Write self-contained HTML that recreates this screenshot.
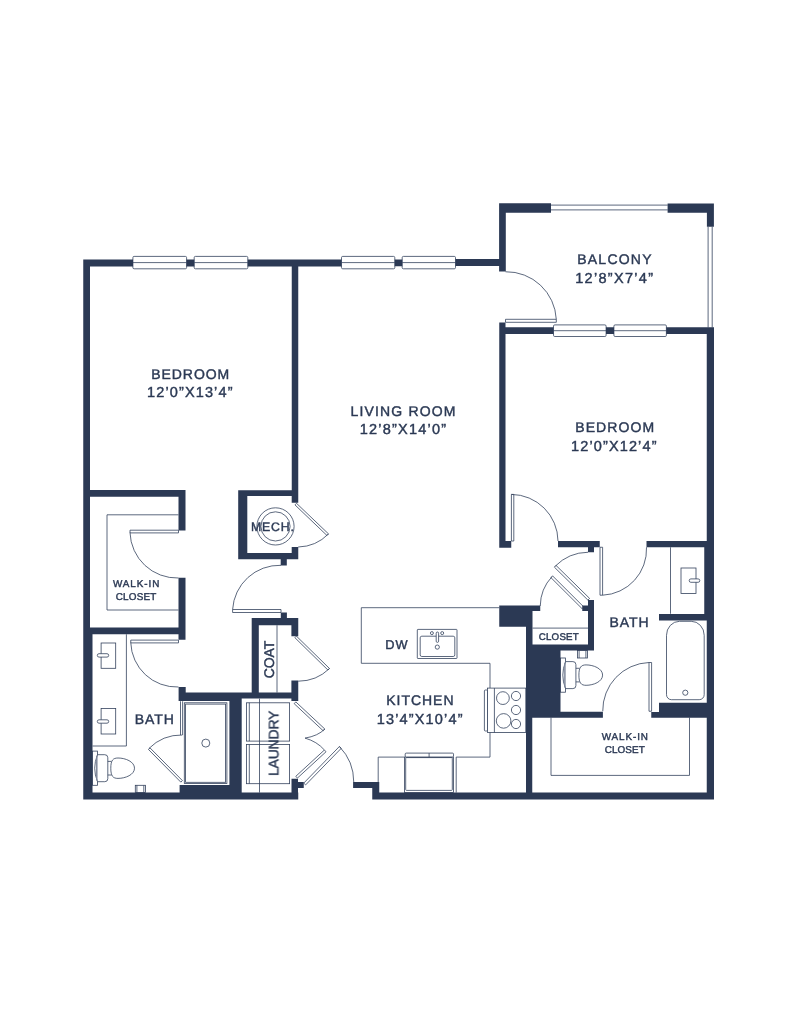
<!DOCTYPE html>
<html><head><meta charset="utf-8"><title>Floor plan</title>
<style>html,body{margin:0;padding:0;background:#fff}svg{display:block}</style>
</head><body>
<svg width="791" height="1024" viewBox="0 0 791 1024">
<defs><filter id="nf" x="0" y="0" width="791" height="1024" filterUnits="userSpaceOnUse" color-interpolation-filters="sRGB"><feOffset dx="0" dy="0"/></filter></defs>
<rect width="791" height="1024" fill="#fff"/>
<g fill="none" stroke="#34425d" stroke-width="0.8" stroke-linecap="butt" stroke-linejoin="miter">
<rect x="132.9" y="256.40000000000003" width="53.69999999999999" height="12.4" rx="1.2" fill="#fff"/>
<path d="M132.9 262.6H186.6"/>
<rect x="194.2" y="256.40000000000003" width="53.60000000000002" height="12.4" rx="1.2" fill="#fff"/>
<path d="M194.2 262.6H247.8"/>
<rect x="341.5" y="256.40000000000003" width="53.30000000000001" height="12.4" rx="1.2" fill="#fff"/>
<path d="M341.5 262.6H394.8"/>
<rect x="402.2" y="256.40000000000003" width="53.30000000000001" height="12.4" rx="1.2" fill="#fff"/>
<path d="M402.2 262.6H455.5"/>
<rect x="553.5" y="324.9" width="52.60000000000002" height="11.6" rx="1.2" fill="#fff"/>
<path d="M553.5 330.7H606.1"/>
<rect x="613.9" y="324.9" width="52.5" height="11.6" rx="1.2" fill="#fff"/>
<path d="M613.9 330.7H666.4"/>
<path d="M551 205.1H667.75M551 209.9H667.75"/>
<path d="M708.1 226.75V327.5M712.2 226.75V327.5"/>
<path d="M505.50 319.30 L556.30 319.30 L556.30 322.30 L505.50 322.30Z" fill="#fff"/>
<path d="M505.5 271.75A50 50 0 0 1 556.3 319.3"/>
<path d="M130.00 530.20 L178.50 530.20 L178.50 532.90 L130.00 532.90Z" fill="#fff"/>
<path d="M130 532.6A47 47 0 0 0 178.5 578"/>
<path d="M130.75 640.10 L178.50 640.10 L178.50 642.90 L130.75 642.90Z" fill="#fff"/>
<path d="M130.75 642.6A46 46 0 0 0 178.5 687"/>
<path d="M296.50 503.30 L328.50 533.90 L326.98 535.49 L294.98 504.89Z" fill="#fff"/>
<path d="M328.5 533.9A44 44 0 0 1 298.2 547"/>
<path d="M232.60 609.50 L281.00 609.50 L281.00 612.50 L232.60 612.50Z" fill="#fff"/>
<path d="M232.6 609.5A47 47 0 0 1 281 565.3"/>
<path d="M296.40 636.10 L329.50 668.50 L327.96 670.07 L294.86 637.67Z" fill="#fff"/>
<path d="M329.5 668.5A45 45 0 0 1 298.2 681.2"/>
<path d="M295.80 701.90 L324.80 729.00 L323.16 730.75 L294.16 703.65Z" fill="#fff"/>
<path d="M324.8 729Q318 736 305 738.1Q317 741.5 324.4 750"/>
<path d="M324.40 750.00 L295.80 776.30 L297.42 778.07 L326.02 751.77Z" fill="#fff"/>
<path d="M303.75 783.10 L339.40 746.50 L341.26 748.31 L305.61 784.91Z" fill="#fff"/>
<path d="M339.4 746.5A51 51 0 0 1 353.75 782.1"/>
<path d="M511.40 541.00 L511.40 494.40 L513.80 494.40 L513.80 541.00Z" fill="#fff"/>
<path d="M511.4 494.4A47 47 0 0 1 558 541"/>
<path d="M600.00 547.25 L600.00 595.20 L602.60 595.20 L602.60 547.25Z" fill="#fff"/>
<path d="M602.6 595.2A46 46 0 0 0 646.5 547.25"/>
<path d="M589.60 598.40 L556.00 565.40 L554.32 567.11 L587.92 600.11Z" fill="#fff"/>
<path d="M555.2 566.2A47 47 0 0 1 588 552.25"/>
<path d="M583.80 607.00 L552.60 575.90 L550.91 577.60 L582.11 608.70Z" fill="#fff"/>
<path d="M552.0 576.6A44 44 0 0 0 540.25 606"/>
<path d="M651.60 711.25 L651.60 662.50 L649.00 662.50 L649.00 711.25Z" fill="#fff"/>
<path d="M649 662.5A48 48 0 0 0 602.75 711.25"/>
<path d="M182.40 780.60 L150.00 747.90 L148.44 749.45 L180.84 782.15Z" fill="#fff"/>
<path d="M148.8 748.6A46 46 0 0 1 182.4 735"/>
<path d="M180.5 701.3V735M182.6 701.3V735"/>
<path d="M178.5 514.8H107V610H178.5"/>
<path d="M551 717.5V775.4H689.5V717.5"/>
<path d="M277 625.2V692.6"/>
<path d="M532.5 628.1H588"/>
<path d="M126.4 634.25V746H92.5"/>
<rect x="101.1" y="643" width="14.600000000000009" height="25.299999999999955"/>
<rect x="97.3" y="653.6999999999999" width="11.400000000000006" height="3.4" rx="1.7" fill="#fff"/>
<rect x="101.1" y="708.4" width="14.600000000000009" height="25.600000000000023"/>
<rect x="97.3" y="719.8" width="11.400000000000006" height="3.4" rx="1.7" fill="#fff"/>
<path d="M670.5 547.25V613.75"/>
<rect x="681" y="568" width="15" height="25.5"/>
<rect x="689.2" y="578.9" width="10.599999999999909" height="3.4" rx="1.7" fill="#fff"/>
<path d="M666.5 694.7V635.3A13 14 0 0 1 679.5 621.3H691.2A13 14 0 0 1 704.2 635.3V694.7A5 5 0 0 1 699.2 699.7H671.5A5 5 0 0 1 666.5 694.7Z"/>
<circle cx="685.3" cy="692.7" r="2.6"/>
<rect x="184.3" y="702.8" width="42.6" height="80.8"/><rect x="185.6" y="704.1" width="40" height="78.2"/>
<circle cx="205.8" cy="743.1" r="4"/>
<path d="M259.5 698.6V792.6"/>
<rect x="246.4" y="702.8" width="43.2" height="38.3"/><rect x="246.4" y="744.5" width="43.2" height="39.2"/>
<path d="M249.3 702.8V741.1M249.3 744.5V783.7"/>
<circle cx="275.5" cy="526.4" r="18.6"/><circle cx="275.5" cy="526.4" r="14.6"/>
<path d="M499.25 607.7H361.3V663.3H490V688.1"/>
<rect x="417.3" y="629.4" width="39.7" height="29.1" rx="0.6"/><rect x="420.2" y="636.2" width="34.6" height="20.3" rx="1.6"/>
<rect x="436.2" y="632" width="2.4" height="10.4" rx="1.2" fill="#fff"/>
<circle cx="431.9" cy="633.1" r="1.5"/><circle cx="442.2" cy="633.1" r="1.5"/><circle cx="437.3" cy="647.1" r="2.1"/>
<rect x="484.4" y="690" width="3.2" height="41" rx="1"/>
<rect x="487.5" y="688.1" width="38.3" height="44.4" fill="#fff"/>
<path d="M494.4 688.1V732.5"/>
<circle cx="502.9" cy="698.1" r="6.4"/>
<circle cx="516" cy="696" r="4.6"/>
<circle cx="516" cy="710" r="4.6"/>
<circle cx="503.6" cy="720.9" r="7.3"/>
<circle cx="516" cy="724" r="4.6"/>
<path d="M378.2 792.6V757.1H404.4"/>
<path d="M456.2 792.6V757.1H490V732.5"/>
<rect x="404.4" y="757.1" width="49.1" height="35.5" fill="#fff"/>
<rect x="405.7" y="757.6" width="46.6" height="32.8" rx="0.8"/>
<rect x="405.2" y="753.1" width="48.3" height="3.9" rx="1" fill="#fff"/>
<path d="M429.1 753.1V757"/>
<rect x="92.5" y="751.1" width="5" height="34.2" fill="#fff"/>
<path d="M97.5 754.7H104.8Q107.8 754.7 107.8 757.7V778.7Q107.8 781.7 104.8 781.7H97.5Q91.9 768.2 97.5 754.7Z" fill="#fff"/>
<path d="M96.8 755.8000000000001V780.6" stroke-width="1.5" stroke="#7d879a"/>
<path d="M107.8 761.4000000000001H111.5M107.8 775.0H111.5"/>
<path d="M110.8 768.2C110.8 760.2 113.0 758.0 118.0 758.0C125.5 758.0 134.5 761.7 134.5 768.2C134.5 774.7 125.5 778.4000000000001 118.0 778.4000000000001C113.0 778.4000000000001 110.8 776.2 110.8 768.2Z" fill="#fff"/>
<rect x="560.6" y="658.0" width="5" height="34.2" fill="#fff"/>
<path d="M565.6 661.6H572.9Q575.9 661.6 575.9 664.6V685.6Q575.9 688.6 572.9 688.6H565.6Q560.0 675.1 565.6 661.6Z" fill="#fff"/>
<path d="M564.9 662.7V687.5" stroke-width="1.5" stroke="#7d879a"/>
<path d="M575.9 668.3000000000001H579.6M575.9 681.9H579.6"/>
<path d="M578.9 675.1C578.9 667.1 581.1 664.9 586.1 664.9C593.6 664.9 602.6 668.6 602.6 675.1C602.6 681.6 593.6 685.3000000000001 586.1 685.3000000000001C581.1 685.3000000000001 578.9 683.1 578.9 675.1Z" fill="#fff"/>
<rect x="135.3" y="785.3000000000001" width="10.099999999999994" height="7.3"/>
<path d="M136.9 785.3000000000001V792.6M143.8 785.3000000000001V792.6"/>
<rect x="577.5" y="650.6" width="10" height="7.4"/><path d="M579.1 650.6V658M585.9 650.6V658"/>
</g>
<path fill="#2b3954" fill-rule="nonzero" d="M83.25 259.5H90V634H83.25ZM83.25 627.5H92.5V799.5H83.25ZM83.25 259.5H133V266.5H83.25ZM186.5 259.5H194.25V266.5H186.5ZM247.75 259.5H341.5V266.5H247.75ZM394.75 259.4H402.25V266.3H394.75ZM455.5 259.1H505.5V265.9H455.5ZM291.75 262H298.25V502.75H291.75ZM499.1 203.2H505.8V271.6H499.1ZM499.1 203.2H551V212.75H499.1ZM667.6 203.4H713.9V212.75H667.6ZM706.9 203.4H713.9V226.7H706.9ZM499.25 322.5H505.5V547.75H499.25ZM499.25 541H511.25V547.75H499.25ZM505.5 327.25H553.5V334H505.5ZM606 327.25H614V334H606ZM666.25 327.25H714V334H666.25ZM706.75 327.5H714V799.5H706.75ZM704.25 541H714V614H704.25ZM558 541H599.75V547.25H558ZM588 547.25H594V552.25H588ZM646.5 541H710V547.25H646.5ZM659 614H710V620.6H659ZM659 702.8H710V717.7H659ZM651.25 711.9H659.25V717.7H651.25ZM526 711.8H602.9V717.7H526ZM526 646H560.5V717.5H526ZM499.25 605.5H532.5V626.75H499.25ZM532.5 605.5H540.25V611H532.5ZM526 605.5H532.5V650.6H526ZM588 600H594V650.6H588ZM526 644.6H594V650.6H526ZM582.25 605.6H588V611H582.25ZM526 717.5H532.25V799.5H526ZM83.25 792.6H298.25V799.5H83.25ZM372.25 792.6H714V799.5H372.25ZM353.1 782.1H379.25V788.1H353.1ZM372.25 782.1H379.25V799.5H372.25ZM291.5 778.75H298V799.5H291.5ZM298 782.1H303.75V788.1H298ZM229.4 692.6H241.7V799.5H229.4ZM179.6 785.1H241.7V799.5H179.6ZM178.6 692.6H241.7V700.9H178.6ZM241.7 692.6H298.25V698.6H241.7ZM178.6 687H185.7V700.9H178.6ZM90 490H185.5V496.75H90ZM178.5 490H185.5V530.5H178.5ZM178.5 577.75H185.5V639.75H178.5ZM90 627.5H185.5V634.25H90ZM238.2 490.2H247.3V559.3H238.2ZM238.2 490.2H298.25V495.9H238.2ZM238.2 553H298.25V559.3H238.2ZM291.7 546.9H298.25V559.3H291.7ZM291.7 490.2H298.25V502.7H291.7ZM280.7 559.3H286.8V565.4H280.7ZM251.7 618H258.8V698.6H251.7ZM251.7 618H298.25V625.2H251.7ZM291.4 618H298.25V636.2H291.4ZM291.4 680.5H298.25V701.1H291.4ZM280.8 612.6H286.9V618H280.8Z"/>
<g fill="#2b3954" stroke="#2b3954" stroke-width="0.42" filter="url(#nf)" text-rendering="geometricPrecision" font-family="Liberation Sans, Arial, sans-serif" text-anchor="start">
<text x="151.25" y="378.75" font-size="14.0" textLength="78.0" lengthAdjust="spacing">BEDROOM</text>
<text x="147" y="397" font-size="14.5" textLength="85.5" lengthAdjust="spacing">12’0”X13’4”</text>
<text x="350.5" y="416" font-size="14.0" textLength="105.0" lengthAdjust="spacing">LIVING ROOM</text>
<text x="359.75" y="434.25" font-size="14.5" textLength="86.25" lengthAdjust="spacing">12’8”X14’0”</text>
<text x="577.25" y="264" font-size="14.0" textLength="74.25" lengthAdjust="spacing">BALCONY</text>
<text x="575.25" y="282.5" font-size="14.5" textLength="77.75" lengthAdjust="spacing">12’8”X7’4”</text>
<text x="575.2" y="432" font-size="14.0" textLength="79.0" lengthAdjust="spacing">BEDROOM</text>
<text x="571" y="451" font-size="14.5" textLength="85.5" lengthAdjust="spacing">12’0”X12’4”</text>
<text x="386.25" y="705" font-size="14.0" textLength="67.25" lengthAdjust="spacing">KITCHEN</text>
<text x="376.75" y="723.5" font-size="14.5" textLength="85.75" lengthAdjust="spacing">13’4”X10’4”</text>
<text x="134.8" y="723.5" font-size="14.0" textLength="39.0" lengthAdjust="spacing">BATH</text>
<text x="609.6" y="627" font-size="14.0" textLength="39.0" lengthAdjust="spacing">BATH</text>
<text x="385.2" y="649" font-size="12.8" textLength="22.4" lengthAdjust="spacing">DW</text>
<text x="250.9" y="531.4" font-size="12.3" textLength="43.0" lengthAdjust="spacing">MECH.</text>
<text x="112.9" y="587.2" font-size="9.9" textLength="46.5" lengthAdjust="spacing">WALK-IN</text>
<text x="115.75" y="600.25" font-size="9.9" textLength="40.5" lengthAdjust="spacing">CLOSET</text>
<text x="601.75" y="740" font-size="9.9" textLength="46.25" lengthAdjust="spacing">WALK-IN</text>
<text x="604.75" y="752.5" font-size="9.9" textLength="40.0" lengthAdjust="spacing">CLOSET</text>
<text x="538.75" y="640.3" font-size="9.7" textLength="40.0" lengthAdjust="spacing">CLOSET</text>
<text transform="translate(274.3 678.2) rotate(-90)" font-size="14.0" textLength="37.6" lengthAdjust="spacing">COAT</text>
<text transform="translate(278.4 776) rotate(-90)" font-size="14.0" textLength="65.4" lengthAdjust="spacing">LAUNDRY</text>
</g>
</svg>
</body></html>
